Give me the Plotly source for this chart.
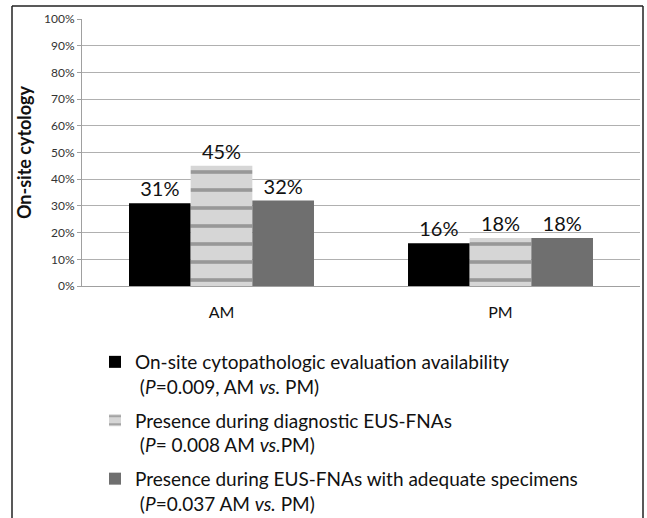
import plotly.graph_objects as go

# Time-of-day groups
periods = ["AM", "PM"]

# Series (percent of procedures)
availability = [31, 16]
diagnostic = [45, 18]
adequate = [32, 18]

series_names = [
    "On-site cytopathologic evaluation availability<br> (<i>P</i>=0.009, AM <i>vs.</i> PM)",
    "Presence during diagnostic EUS-FNAs<br> (<i>P</i>= 0.008 AM <i>vs.</i>PM)",
    "Presence during EUS-FNAs with adequate specimens<br> (<i>P</i>=0.037 AM <i>vs.</i> PM)",
]

y_ticks = list(range(0, 101, 10))
y_tick_text = [f"{v}%" for v in y_ticks]

FONT = "Lato, 'Open Sans', sans-serif"
LABEL_FONT = dict(size=20, color="#111111", family=FONT)

fig = go.Figure()

fig.add_trace(go.Bar(
    x=periods, y=availability, name=series_names[0], legendgroup="a",
    marker=dict(color="#000000", line=dict(width=0)),
    text=[f"{v}%" for v in availability], textposition="outside",
    textfont=LABEL_FONT, cliponaxis=False,
))
fig.add_trace(go.Bar(
    x=periods, y=diagnostic, name=series_names[1], legendgroup="b",
    marker=dict(
        color="#d4d4d4", line=dict(width=0),
        pattern=dict(shape="-", fgcolor="#5a5a5a", bgcolor="#d6d6d6",
                     size=18, solidity=0.2, fillmode="overlay"),
    ),
    text=[f"{v}%" for v in diagnostic], textposition="outside",
    textfont=LABEL_FONT, cliponaxis=False,
))
fig.add_trace(go.Bar(
    x=periods, y=adequate, name=series_names[2], legendgroup="c",
    marker=dict(color="#6f6f6f", line=dict(width=0)),
    text=[f"{v}%" for v in adequate], textposition="outside",
    textfont=LABEL_FONT, cliponaxis=False,
))

# frame around the figure (open at the bottom)
L, R, T, B = 82, 7, 19, 232
PW, PH = 647 - L - R, 518 - T - B
def px(x):
    return (x - L) / PW
def py(y):
    return (518 - B - y) / PH

frame = dict(type="line", xref="paper", yref="paper",
             line=dict(color="#222222", width=1.5))
shapes = [
    dict(frame, x0=px(12), x1=px(12), y0=py(6), y1=py(520)),
    dict(frame, x0=px(643), x1=px(643), y0=py(6), y1=py(520)),
    dict(frame, x0=px(12), x1=px(643), y0=py(6), y1=py(6)),
]

fig.update_layout(
    width=647, height=518,
    margin=dict(l=L, r=R, t=T, b=B, autoexpand=False),
    paper_bgcolor="white", plot_bgcolor="white",
    font=dict(family=FONT, color="#111111"),
    barmode="group", bargap=0.337, bargroupgap=0,
    shapes=shapes,
    showlegend=True,
    legend=dict(
        x=px(95), y=py(343), xanchor="left", yanchor="top",
        orientation="v", valign="top", tracegroupgap=6,
        font=dict(size=19, family=FONT, color="#111111"),
        itemwidth=30, bgcolor="rgba(0,0,0,0)",
    ),
)

fig.update_yaxes(
    range=[0, 100], tickvals=y_ticks, ticktext=y_tick_text,
    showgrid=True, gridcolor="#b0b0b0", gridwidth=1,
    showline=True, linecolor="#a0a0a0", linewidth=1,
    ticks="outside", ticklen=4, tickcolor="#a0a0a0",
    tickfont=dict(size=12, color="#333333", family=FONT),
    title=dict(text="<b>On-site cytology</b>", font=dict(size=18, color="#111111", family=FONT),
               standoff=7),
    zeroline=False,
)
fig.update_xaxes(
    showline=True, linecolor="#a0a0a0", linewidth=1,
    ticks="", tickfont=dict(size=16, color="#111111", family=FONT),
    ticklabelstandoff=12,
)

fig.write_html("out.html")
